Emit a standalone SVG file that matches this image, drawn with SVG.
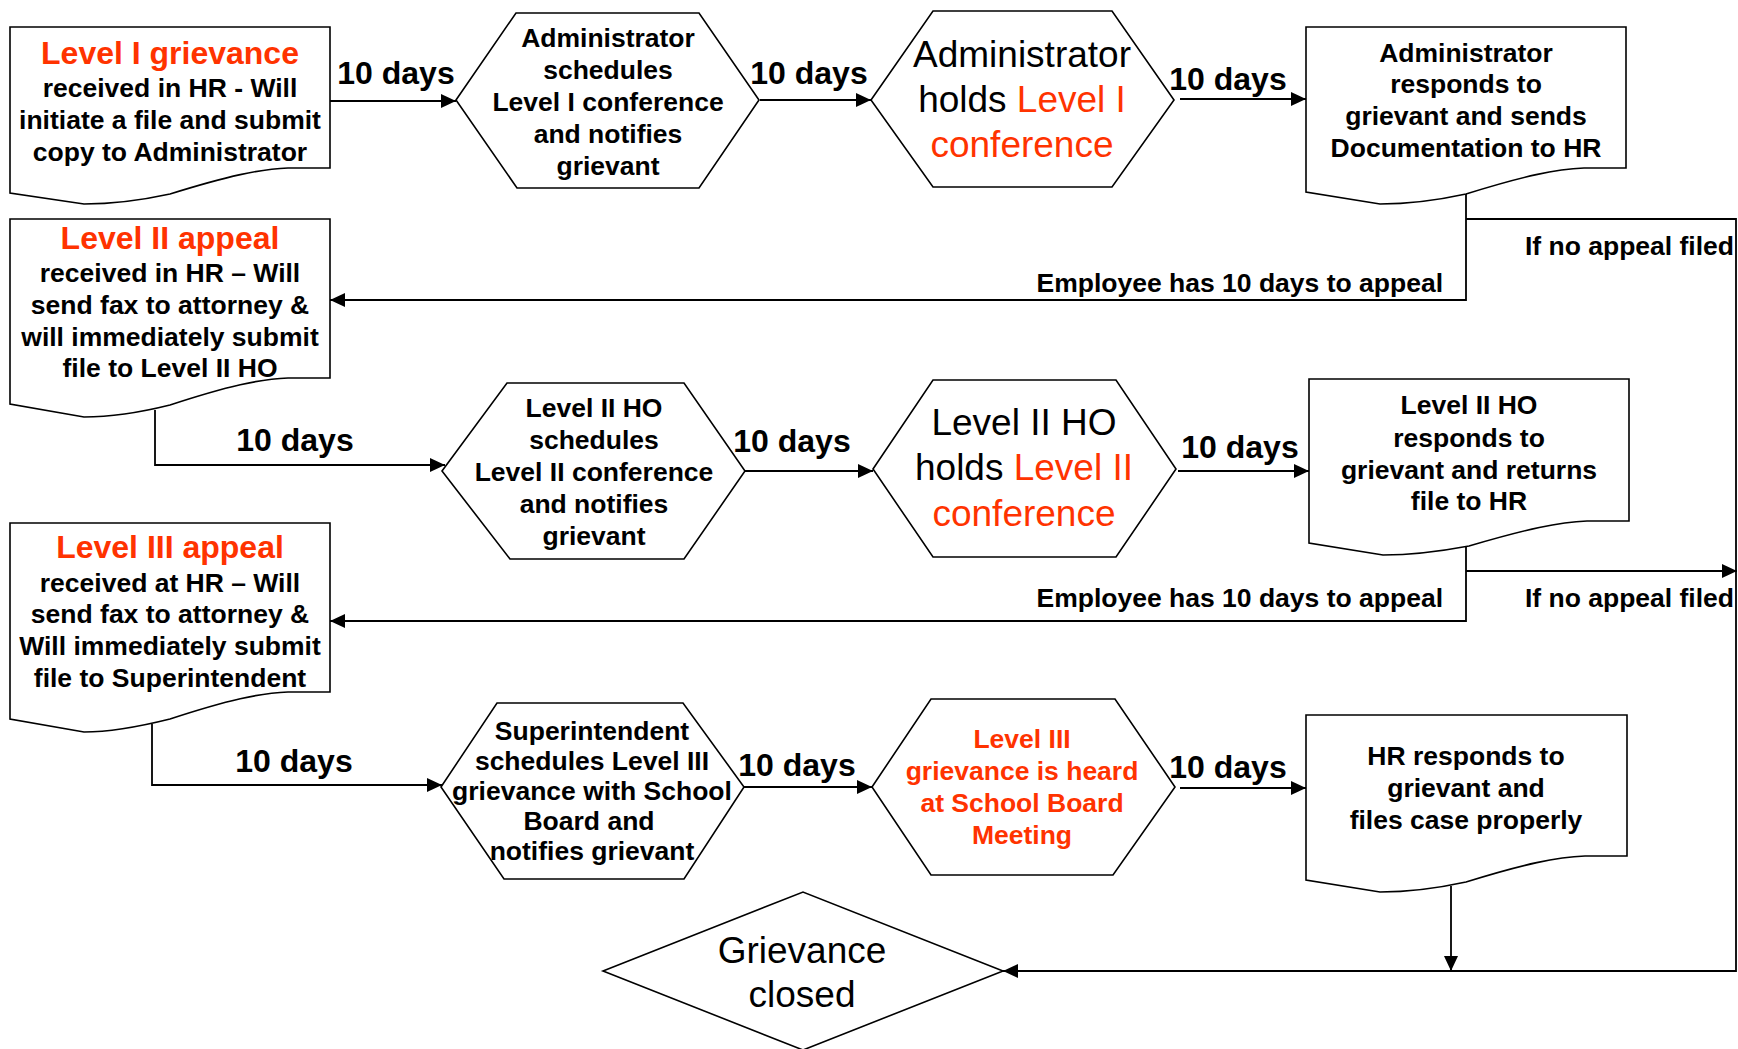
<svg xmlns="http://www.w3.org/2000/svg" width="1738" height="1049" viewBox="0 0 1738 1049">
<defs>
<marker id="ah" markerUnits="userSpaceOnUse" markerWidth="16" markerHeight="14" refX="15" refY="7" orient="auto">
<path d="M0,0 L15,7 L0,14 Z" fill="#000"/>
</marker>
<style>
.shape{fill:#fff;stroke:#000;stroke-width:1.6;stroke-linejoin:miter}
.con{fill:none;stroke:#000;stroke-width:1.8}
.arr{marker-end:url(#ah)}
text{font-family:"Liberation Sans",Arial,sans-serif;fill:#000}
.b{font-weight:bold;font-size:26.5px;text-anchor:middle}
.h{font-weight:bold;font-size:32px;text-anchor:middle;fill:#FF3300}
.d{font-weight:bold;font-size:32px;text-anchor:middle}
.r{font-size:37px;text-anchor:middle}
.red{fill:#FF3300}
.lbl{font-weight:bold;font-size:26.5px;text-anchor:end}
</style>
</defs>
<rect width="1738" height="1049" fill="#fff"/>

<g id="connectors">
<path class="con arr" d="M330,101 H456"/>
<path class="con arr" d="M760,100 H871"/>
<path class="con arr" d="M1180,99 H1306"/>
<path class="con arr" d="M1466,194 V300 H330"/>
<path class="con arr" d="M1466,219 H1736 V971 H1003"/>
<path class="con arr" d="M155,410 V465 H445"/>
<path class="con arr" d="M745,471 H873"/>
<path class="con arr" d="M1178,471 H1309"/>
<path class="con arr" d="M1466,547 V621 H330"/>
<path class="con arr" d="M1466,571 H1737"/>
<path class="con arr" d="M152,724 V785 H442"/>
<path class="con arr" d="M744,787 H872"/>
<path class="con arr" d="M1180,788 H1306"/>
<path class="con arr" d="M1451,886 V971"/>
<text class="d" x="396" y="84">10 days</text>
<text class="d" x="809" y="84">10 days</text>
<text class="d" x="1228" y="90">10 days</text>
<text class="lbl" x="1443" y="292">Employee has 10 days to appeal</text>
<text class="lbl" x="1734" y="255">If no appeal filed</text>
<text class="d" x="295" y="451">10 days</text>
<text class="d" x="792" y="452">10 days</text>
<text class="d" x="1240" y="458">10 days</text>
<text class="lbl" x="1443" y="607">Employee has 10 days to appeal</text>
<text class="lbl" x="1734" y="607">If no appeal filed</text>
<text class="d" x="294" y="772">10 days</text>
<text class="d" x="797" y="776">10 days</text>
<text class="d" x="1228" y="778">10 days</text>
</g>

<g id="doc1">
<path class="shape" d="M10,27 H330 V168 H288 C260,169 228,176 170,194 C138,201 112,204 84,204 L10,193 Z"/>
<text class="h" x="170" y="64">Level I grievance</text>
<text class="b" x="170" y="97">received in HR - Will</text>
<text class="b" x="170" y="129">initiate a file and submit</text>
<text class="b" x="170" y="161">copy to Administrator</text>
</g>

<g id="hex1">
<polygon class="shape" points="456,100 516,13 699,13 759,100 699,188 517,188"/>
<text class="b" x="608" y="47">Administrator</text>
<text class="b" x="608" y="79">schedules</text>
<text class="b" x="608" y="111">Level I conference</text>
<text class="b" x="608" y="143">and notifies</text>
<text class="b" x="608" y="175">grievant</text>
</g>

<g id="hex2">
<polygon class="shape" points="871,100 933,11 1112,11 1174,100 1112,187 933,187"/>
<text class="r" x="1022" y="67">Administrator</text>
<text class="r" x="1022" y="112">holds <tspan class="red">Level I</tspan></text>
<text class="r red" x="1022" y="157">conference</text>
</g>

<g id="doc4">
<path class="shape" d="M1306,27 H1626 V168 H1584 C1556,169 1524,176 1466,194 C1434,201 1408,204 1380,204 L1306,192 Z"/>
<text class="b" x="1466" y="62">Administrator</text>
<text class="b" x="1466" y="93">responds to</text>
<text class="b" x="1466" y="125">grievant and sends</text>
<text class="b" x="1466" y="157">Documentation to HR</text>
</g>

<g id="doc2">
<path class="shape" d="M10,219 H330 V378 H288 C260,379 228,386 170,405 C138,413 112,417 84,417 L10,404 Z"/>
<text class="h" x="170" y="249">Level II appeal</text>
<text class="b" x="170" y="282">received in HR – Will</text>
<text class="b" x="170" y="314">send fax to attorney &amp;</text>
<text class="b" x="170" y="346">will immediately submit</text>
<text class="b" x="170" y="377">file to Level II HO</text>
</g>

<g id="hex3">
<polygon class="shape" points="442,471 507,383 684,383 745,471 684,559 510,559"/>
<text class="b" x="594" y="417">Level II HO</text>
<text class="b" x="594" y="449">schedules</text>
<text class="b" x="594" y="481">Level II conference</text>
<text class="b" x="594" y="513">and notifies</text>
<text class="b" x="594" y="545">grievant</text>
</g>

<g id="hex4">
<polygon class="shape" points="873,469 933,380 1116,380 1176,469 1116,557 933,557"/>
<text class="r" x="1024" y="435">Level II HO</text>
<text class="r" x="1024" y="480">holds <tspan class="red">Level II</tspan></text>
<text class="r red" x="1024" y="526">conference</text>
</g>

<g id="doc5">
<path class="shape" d="M1309,379 H1629 V521 H1587 C1559,522 1527,529 1469,546 C1437,552 1411,555 1383,555 L1309,543 Z"/>
<text class="b" x="1469" y="414">Level II HO</text>
<text class="b" x="1469" y="447">responds to</text>
<text class="b" x="1469" y="479">grievant and returns</text>
<text class="b" x="1469" y="510">file to HR</text>
</g>

<g id="doc3">
<path class="shape" d="M10,523 H330 V692 H288 C260,693 228,700 170,719 C138,727 112,732 84,732 L10,719 Z"/>
<text class="h" x="170" y="558">Level III appeal</text>
<text class="b" x="170" y="592">received at HR – Will</text>
<text class="b" x="170" y="623">send fax to attorney &amp;</text>
<text class="b" x="170" y="655">Will immediately submit</text>
<text class="b" x="170" y="687">file to Superintendent</text>
</g>

<g id="hex5">
<polygon class="shape" points="441,787 497,703 683,703 744,787 684,879 504,879"/>
<text class="b" x="592" y="740">Superintendent</text>
<text class="b" x="592" y="770">schedules Level III</text>
<text class="b" x="592" y="800">grievance with School</text>
<text class="b" x="589" y="830">Board and</text>
<text class="b" x="592" y="860">notifies grievant</text>
</g>

<g id="hex6">
<polygon class="shape" points="872,787 931,699 1115,699 1175,787 1113,875 931,875"/>
<text class="b red" x="1022" y="748">Level III</text>
<text class="b red" x="1022" y="780">grievance is heard</text>
<text class="b red" x="1022" y="812">at School Board</text>
<text class="b red" x="1022" y="844">Meeting</text>
</g>

<g id="doc6">
<path class="shape" d="M1306,715 H1627 V856 H1585 C1557,857 1524,864 1466,882 C1434,889 1408,892 1380,892 L1306,880 Z"/>
<text class="b" x="1466" y="765">HR responds to</text>
<text class="b" x="1466" y="797">grievant and</text>
<text class="b" x="1466" y="829">files case properly</text>
</g>

<g id="closed">
<polygon class="shape" points="603,971 803,892 1003,971 803,1050"/>
<text class="r" x="802" y="963">Grievance</text>
<text class="r" x="802" y="1007">closed</text>
</g>
</svg>
